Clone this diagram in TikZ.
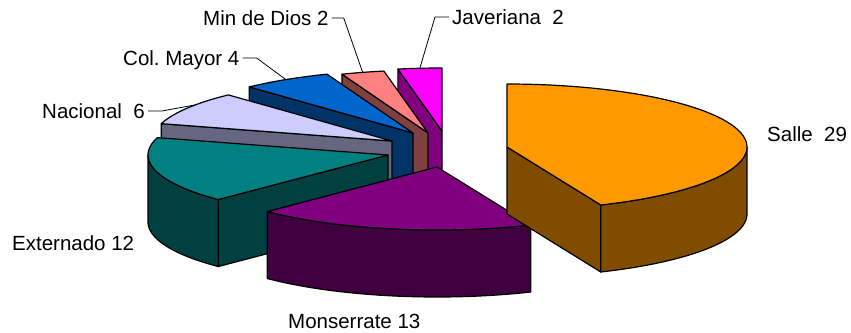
\documentclass[tikz,border=0pt]{standalone}
\usepackage{fontspec}
\setmainfont{Liberation Sans}
\usetikzlibrary{calc}
\definecolor{salle}{RGB}{255,153,0}
\definecolor{salle-side}{RGB}{128,77,0}
\definecolor{monserrate}{RGB}{128,0,128}
\definecolor{monserrate-side}{RGB}{64,0,64}
\definecolor{externado}{RGB}{0,128,128}
\definecolor{externado-side}{RGB}{0,64,64}
\definecolor{nacional}{RGB}{204,204,255}
\definecolor{nacional-side}{RGB}{102,102,128}
\definecolor{colmayor}{RGB}{0,102,204}
\definecolor{colmayor-side}{RGB}{0,51,102}
\definecolor{mindios}{RGB}{255,128,128}
\definecolor{mindios-side}{RGB}{128,64,64}
\definecolor{javeriana}{RGB}{255,0,255}
\definecolor{javeriana-side}{RGB}{128,0,128}

\begin{document}
\begin{tikzpicture}[x=1pt, y=-1pt, samples=60,
    piece/.style={draw=black, line width=1.2pt, line join=round},
    leader/.style={black, line width=0.8pt},
    lbl/.style={font=\fontsize{20.5}{24}\selectfont, inner sep=0pt, anchor=base west}]

	\useasboundingbox (0,0) rectangle (851,332);
	\def\pierx{240}
	\def\piery{63}
	\def\piedep{67}

	% Javeriana 2
	\begin{scope}[shift={(442,131)}]
		\draw[piece, fill=javeriana-side] (0,0) -- ({\pierx*cos(100.6)},{-\piery*sin(100.6)}) -- ++(0,\piedep) -- (0,\piedep) -- cycle;
		\draw[piece, fill=javeriana] (0,0) -- plot[domain=90:100.6] ({\pierx*cos(\x)},{-\piery*sin(\x)}) -- cycle;
		\coordinate (javerend) at ({\pierx*cos(95.3)},{-\piery*sin(95.3)});
	\end{scope}

	% Min de Dios 2
	\begin{scope}[shift={(428,133)}]
		\draw[piece, fill=mindios-side] (0,0) -- ({\pierx*cos(111)},{-\piery*sin(111)}) -- ++(0,\piedep) -- (0,\piedep) -- cycle;
		\draw[piece, fill=mindios] (0,0) -- plot[domain=100.6:111] ({\pierx*cos(\x)},{-\piery*sin(\x)}) -- cycle;
		\coordinate (mindiosend) at ({\pierx*cos(105.8)},{-\piery*sin(105.8)});
	\end{scope}

	% Col. Mayor 4
	\begin{scope}[shift={(413,133)}]
		\draw[piece, fill=colmayor-side] (0,0) -- ({\pierx*cos(133)},{-\piery*sin(133)}) -- ++(0,\piedep) -- (0,\piedep) -- cycle;
		\draw[piece, fill=colmayor] (0,0) -- plot[domain=111:133] ({\pierx*cos(\x)},{-\piery*sin(\x)}) -- cycle;
		\coordinate (colmayorend) at ({\pierx*cos(122)},{-\piery*sin(122)});
	\end{scope}

	% Nacional 6
	\begin{scope}[shift={(392,141)}]
		\draw[piece, fill=nacional-side] (0,0) -- ({\pierx*cos(164)},{-\piery*sin(164)}) -- ++(0,\piedep) -- (0,\piedep) -- cycle;
		\draw[piece, fill=nacional] (0,0) -- plot[domain=133:164] ({\pierx*cos(\x)},{-\piery*sin(\x)}) -- cycle;
		\coordinate (nacionalend) at ({\pierx*cos(145)},{-\piery*sin(145)});
	\end{scope}

	% Externado 12
	\begin{scope}[shift={(388,155)}]
		\draw[piece, fill=externado-side] (0,0) -- ({\pierx*cos(225)},{-\piery*sin(225)}) -- ++(0,\piedep) -- (0,\piedep) -- cycle;
		\draw[piece, fill=externado-side] plot[domain=180:225] ({\pierx*cos(\x)},{-\piery*sin(\x)}) -- plot[domain=225:180] ({\pierx*cos(\x)},{\piedep-\piery*sin(\x)}) -- cycle;
		\draw[piece, fill=externado] (0,0) -- plot[domain=164:225] ({\pierx*cos(\x)},{-\piery*sin(\x)}) -- cycle;
	\end{scope}

	% Monserrate 13
	\begin{scope}[shift={(437,167)}]
		\draw[piece, fill=monserrate-side] plot[domain=-135:-67] ({\pierx*cos(\x)},{-\piery*sin(\x)}) -- plot[domain=-67:-135] ({\pierx*cos(\x)},{\piedep-\piery*sin(\x)}) -- cycle;
		\draw[piece, fill=monserrate] (0,0) -- plot[domain=-135:-67] ({\pierx*cos(\x)},{-\piery*sin(\x)}) -- cycle;
	\end{scope}

	% Salle 29
	\begin{scope}[shift={(507,147)}]
		\draw[piece, fill=salle-side] (0,0) -- ({\pierx*cos(-67)},{-\piery*sin(-67)}) -- ++(0,\piedep) -- (0,\piedep) -- cycle;
		\draw[piece, fill=salle-side] plot[domain=-67:0] ({\pierx*cos(\x)},{-\piery*sin(\x)}) -- plot[domain=0:-67] ({\pierx*cos(\x)},{\piedep-\piery*sin(\x)}) -- cycle;
		\draw[piece, fill=salle] (0,0) -- plot[domain=90:-67] ({\pierx*cos(\x)},{-\piery*sin(\x)}) -- cycle;
	\end{scope}

	% labels
	\node[lbl] (sallelbl) at (767,141) {Salle~~29};
	\node[lbl] (monserratelbl) at (288,328) {Monserrate 13};
	\node[lbl] (externadolbl) at (12,250) {Externado 12};
	\node[lbl, anchor=base east] (nacionallbl) at (145,118) {Nacional~~6};
	\node[lbl] (colmayorlbl) at (123,65) {Col.\ Mayor 4};
	\node[lbl] (mindioslbl) at (203,25) {Min de Dios 2};
	\node[lbl] (javerianalbl) at (452,24) {Javeriana~~2};

	\draw[leader] ([xshift=3pt,yshift=7pt]nacionallbl.base east) -- ++(14,0) -- (nacionalend);
	\draw[leader] ([xshift=3pt,yshift=7pt]colmayorlbl.base east) -- ++(14,0) -- (colmayorend);
	\draw[leader] ([xshift=3pt,yshift=7pt]mindioslbl.base east) -- ++(12,0) -- (mindiosend);
	\draw[leader] ([xshift=-3pt,yshift=7pt]javerianalbl.base west) -- ++(-14,0) -- (javerend);

\end{tikzpicture}
\end{document}
